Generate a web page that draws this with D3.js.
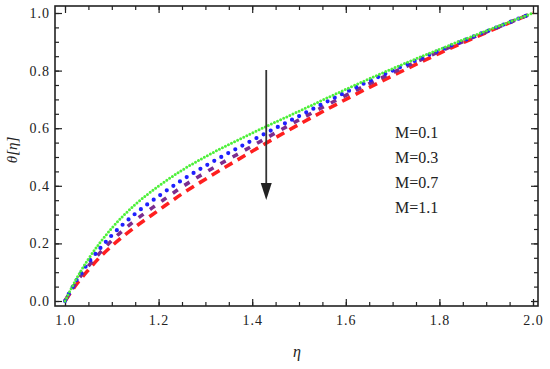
<!DOCTYPE html>
<html>
<head>
<meta charset="utf-8">
<script src="https://cdn.jsdelivr.net/npm/d3@7"></script>
<style>
  body { margin: 0; background: #fff; }
  svg { display: block; }
  .tick line { stroke: #222; stroke-width: 1.2; }
</style>
</head>
<body>
<div id="chart"></div>
<script>
const width = 550
const height = 369

// eta values along the x axis
const eta = [1.0, 1.025, 1.05, 1.075, 1.1, 1.15, 1.2, 1.25, 1.3, 1.4, 1.5, 1.6, 1.7, 1.8, 1.9, 2.0]
// theta for each M
const m01 = [0, 0.079, 0.146, 0.203, 0.253, 0.335, 0.399, 0.454, 0.501, 0.583, 0.659, 0.735, 0.807, 0.874, 0.938, 1.0]
const m03 = [0, 0.073, 0.133, 0.183, 0.228, 0.303, 0.364, 0.42, 0.469, 0.558, 0.642, 0.725, 0.80, 0.87, 0.936, 1.0]
const m07 = [0, 0.067, 0.121, 0.168, 0.21, 0.28, 0.339, 0.396, 0.446, 0.538, 0.629, 0.714, 0.793, 0.866, 0.934, 1.0]
const m11 = [0, 0.059, 0.108, 0.153, 0.191, 0.257, 0.315, 0.372, 0.423, 0.52, 0.613, 0.70, 0.782, 0.86, 0.932, 1.0]

const legendLabels = ['M=0.1', 'M=0.3', 'M=0.7', 'M=1.1']
const xTicks = [1.0, 1.2, 1.4, 1.6, 1.8, 2.0]
const yTicks = [0.0, 0.2, 0.4, 0.6, 0.8, 1.0]

const frame = { left: 55, right: 538, top: 6, bottom: 306 }
const serif = 'Liberation Serif, DejaVu Serif, serif'

const series = [
  { values: m01, color: '#4ef03a', width: 3, dash: '0 3.4' },
  { values: m03, color: '#1f1fff', width: 4.2, dash: '0 8' },
  { values: m07, color: '#7b2d8e', width: 3.6, dash: '6 8' },
  { values: m11, color: '#ff1f1f', width: 3.6, dash: '9 6' }
]

const svg = d3.select('#chart').append('svg')
  .attr('width', width)
  .attr('height', height)

const x = d3.scaleLinear().domain([1, 2]).range([65, 533])
const y = d3.scaleLinear().domain([0, 1]).range([301, 13])

const minorX = d3.range(1, 2.0001, 0.05)
const minorY = d3.range(0, 1.0001, 0.05)

// minor ticks on all four sides
svg.append('g').attr('transform', `translate(0,${frame.bottom})`)
  .call(d3.axisBottom(x).tickValues(minorX).tickSize(-4).tickFormat(''))
svg.append('g').attr('transform', `translate(0,${frame.top})`)
  .call(d3.axisTop(x).tickValues(minorX).tickSize(-4).tickFormat(''))
svg.append('g').attr('transform', `translate(${frame.left},0)`)
  .call(d3.axisLeft(y).tickValues(minorY).tickSize(-4).tickFormat(''))
svg.append('g').attr('transform', `translate(${frame.right},0)`)
  .call(d3.axisRight(y).tickValues(minorY).tickSize(-4).tickFormat(''))

// major ticks
svg.append('g').attr('transform', `translate(0,${frame.bottom})`)
  .call(d3.axisBottom(x).tickValues(xTicks).tickSize(-7).tickPadding(9).tickFormat(d3.format('.1f')))
  .attr('font-family', serif)
  .attr('font-size', 14)
  .attr('letter-spacing', 1)
svg.append('g').attr('transform', `translate(0,${frame.top})`)
  .call(d3.axisTop(x).tickValues(xTicks).tickSize(-7).tickFormat(''))
svg.append('g').attr('transform', `translate(${frame.left},0)`)
  .call(d3.axisLeft(y).tickValues(yTicks).tickSize(-7).tickPadding(5).tickFormat(d3.format('.1f')))
  .attr('font-family', serif)
  .attr('font-size', 14)
  .attr('letter-spacing', 1)
svg.append('g').attr('transform', `translate(${frame.right},0)`)
  .call(d3.axisRight(y).tickValues(yTicks).tickSize(-7).tickFormat(''))

svg.selectAll('.tick text').attr('fill', '#222')
svg.selectAll('.domain').remove()

svg.append('rect')
  .attr('x', frame.left)
  .attr('y', frame.top)
  .attr('width', frame.right - frame.left)
  .attr('height', frame.bottom - frame.top)
  .attr('fill', 'none')
  .attr('stroke', '#222')
  .attr('stroke-width', 1.6)

const line = d3.line()
  .x((d, i) => x(eta[i]))
  .y(d => y(d))
  .curve(d3.curveMonotoneX)

// draw bottom curve first so green sits on top
svg.selectAll('path.curve')
  .data(series.slice().reverse())
  .join('path')
  .attr('class', 'curve')
  .attr('d', d => line(d.values))
  .attr('fill', 'none')
  .attr('stroke', d => d.color)
  .attr('stroke-width', d => d.width)
  .attr('stroke-dasharray', d => d.dash)
  .attr('stroke-linecap', d => d.dash.startsWith('0') ? 'round' : 'butt')

// arrow showing increasing M
const arrowX = x(1.43)
svg.append('line')
  .attr('x1', arrowX).attr('x2', arrowX)
  .attr('y1', 70).attr('y2', 186)
  .attr('stroke', '#333')
  .attr('stroke-width', 1.8)
svg.append('path')
  .attr('d', `M${arrowX - 5.5},183 L${arrowX + 5.5},183 L${arrowX},200 Z`)
  .attr('fill', '#222')

// legend text
svg.selectAll('text.legend')
  .data(legendLabels)
  .join('text')
  .attr('class', 'legend')
  .attr('x', 395)
  .attr('y', (d, i) => 138 + i * 25)
  .attr('font-family', serif)
  .attr('font-size', 16)
  .attr('fill', '#222')
  .text(d => d)

// axis labels
svg.append('text')
  .attr('x', 297)
  .attr('y', 357)
  .attr('text-anchor', 'middle')
  .attr('font-family', serif)
  .attr('font-style', 'italic')
  .attr('font-size', 16)
  .attr('fill', '#222')
  .text('η')

svg.append('text')
  .attr('transform', 'translate(17,150) rotate(-90)')
  .attr('text-anchor', 'middle')
  .attr('font-family', serif)
  .attr('font-style', 'italic')
  .attr('font-size', 15)
  .attr('fill', '#222')
  .text('θ[η]')
</script>
</body>
</html>
